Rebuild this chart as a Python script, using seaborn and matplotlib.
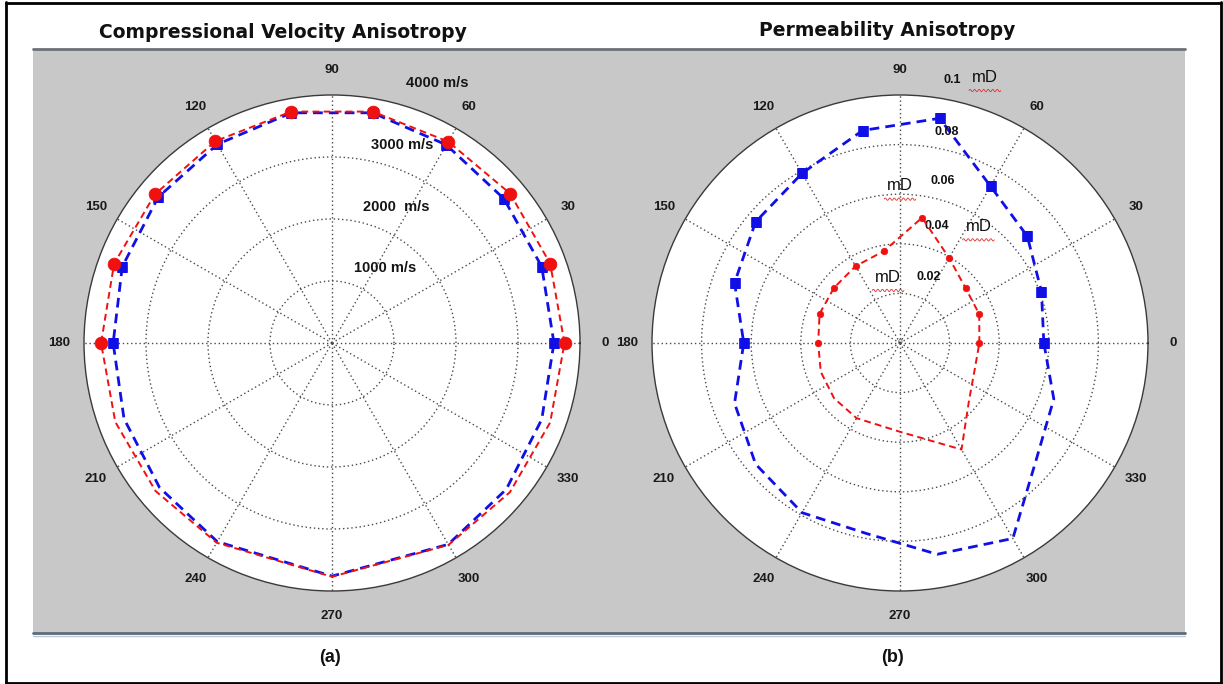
import numpy as np
import pandas as pd
import matplotlib
matplotlib.use("Agg")
import matplotlib.pyplot as plt
import seaborn as sns
from matplotlib.patches import Rectangle
from matplotlib.lines import Line2D

# ---------------- data ----------------
angles_upper = [0, 20, 40, 60, 80, 100, 120, 140, 160, 180]          # measured (marked) directions
# Compressional velocity (m/s)
vel_angles_lower = [200, 220, 240, 270, 300, 320, 340]
vel_red_upper = [3750, 3745, 3750, 3750, 3790, 3790, 3760, 3730, 3740, 3725]
vel_red_lower = [3720, 3715, 3720, 3770, 3760, 3745, 3745]
vel_blue_upper = [3580, 3600, 3620, 3690, 3770, 3770, 3700, 3660, 3600, 3530]
vel_blue_lower = [3570, 3630, 3700, 3760, 3750, 3670, 3600]
vel_rings = [1000, 2000, 3000]
vel_rmax = 4000
vel_ring_labels = ["1000 m/s", "2000  m/s", "3000 m/s", "4000 m/s"]

# Permeability (mD)
perm_blue_angles_lower = [200, 220, 240, 260, 280, 300, 320, 340]
perm_blue_upper = [0.058, 0.0607, 0.067, 0.073, 0.092, 0.087, 0.079, 0.076, 0.071, 0.063]
perm_blue_lower = [0.071, 0.076, 0.079, 0.078, 0.0865, 0.091, 0.072, 0.066]
perm_red_angles_lower = [200, 220, 240, 270, 300, 320, 340]
perm_red_upper = [0.032, 0.034, 0.0345, 0.0396, 0.0513, 0.0376, 0.0358, 0.0347, 0.0345, 0.033]
perm_red_lower = [0.034, 0.0347, 0.035, 0.0358, 0.0496, 0.0363, 0.032]
perm_rings = [0.02, 0.04, 0.06, 0.08]
perm_rmax = 0.1
perm_ring_labels = ["0.02", "0.04", "0.06", "0.08", "0.1"]

theta_tick_labels = [str(a) for a in range(0, 360, 30)]

# ---------------- style ----------------
sns.set_theme(style="white")
plt.rcParams['font.family'] = ['Liberation Sans', 'DejaVu Sans']

W, H = 1223, 684
fig = plt.figure(figsize=(W / 100, H / 100), dpi=100)
fig.patch.set_facecolor("white")


def fx(px):
    return px / W


def fy(py):
    return 1 - py / H


# gray panel band and its rules
fig.patches.append(Rectangle((fx(33), fy(633)), fx(1185) - fx(33), fy(49) - fy(633),
                             transform=fig.transFigure, facecolor="#c8c8c8",
                             edgecolor="none", zorder=-5))
fig.lines.append(Line2D([fx(33), fx(1185)], [fy(49), fy(49)], transform=fig.transFigure,
                        color="#6c7176", lw=2.0))
fig.lines.append(Line2D([fx(33), fx(1185)], [fy(633), fy(633)], transform=fig.transFigure,
                        color="#5d6a78", lw=2.0))
fig.lines.append(Line2D([fx(33), fx(1185)], [fy(635.5), fy(635.5)], transform=fig.transFigure,
                        color="#b9c9d9", lw=1.0))
# outer frame
for xs, ys in [([6, 6], [2, 684]), ([1220.5, 1220.5], [2, 684]), ([6, 1220.5], [2.5, 2.5]),
               ([6, 1220.5], [683, 683])]:
    fig.lines.append(Line2D([fx(v) for v in xs], [fy(v) for v in ys], transform=fig.transFigure,
                            color="black", lw=2.0))

R = 248


def make_polar(cx, cy):
    ax = fig.add_axes([fx(cx - R), fy(cy + R), 2 * R / W, 2 * R / H], projection="polar")
    ax.set_zorder(2)
    ax.set_facecolor("white")
    ax.set_theta_zero_location("E")
    ax.set_theta_direction(1)
    return ax


def finish_polar(ax, rmax, rings):
    ax.set_xlabel("")
    ax.set_ylabel("")
    ax.set_ylim(0, rmax)
    ax.set_xticks(np.deg2rad(np.arange(0, 360, 30)))
    ax.set_xticklabels([])
    ax.set_yticks(rings)
    ax.set_yticklabels([])
    ax.tick_params(length=0)
    ax.grid(True, color="#4a4a4a", linestyle=(0, (1, 2.0)), linewidth=1.0)
    ax.spines["polar"].set_color("#3a3a3a")
    ax.spines["polar"].set_linewidth(1.0)
    for a, lab in zip(range(0, 360, 30), theta_tick_labels):
        ax.text(np.deg2rad(a), 1.1 * rmax, lab, ha="center", va="center", fontsize=9.5,
                fontweight="bold", color="#1a1a1a", clip_on=False)


def draw_series(ax, ang_up, val_up, ang_low, val_low, color, lw, dash, marker, msize, z):
    ang = list(ang_up) + list(ang_low) + [360]
    val = list(val_up) + list(val_low) + [val_up[0]]
    df = pd.DataFrame({"theta": np.deg2rad(ang), "r": val})
    sns.lineplot(data=df, x="theta", y="r", ax=ax, sort=False, estimator=None,
                 color=color, linewidth=lw, linestyle=dash, zorder=z)
    dm = pd.DataFrame({"theta": np.deg2rad(ang_up), "r": val_up})
    sns.scatterplot(data=dm, x="theta", y="r", ax=ax, marker=marker, s=msize,
                    color=color, edgecolor=color, linewidth=0.5, zorder=z + 1)


RED = "#f01010"
BLUE = "#1010e6"

# ---------- (a) compressional velocity ----------
ax1 = make_polar(332, 343)
draw_series(ax1, angles_upper, vel_blue_upper, vel_angles_lower, vel_blue_lower,
            BLUE, 2.0, (0, (3.5, 2.2)), "s", 55, 3)
draw_series(ax1, angles_upper, vel_red_upper, vel_angles_lower, vel_red_lower,
            RED, 1.4, (0, (3.5, 2.2)), "o", 85, 5)
finish_polar(ax1, vel_rmax, vel_rings)
for lab, (x, y) in zip(vel_ring_labels, [(0.607, 0.651), (0.629, 0.774), (0.641, 0.899),
                                         (0.712, 1.024)]):
    ax1.text(x, y, lab, transform=ax1.transAxes, ha="center", va="center", fontsize=10.5,
             fontweight="bold", color="#151515", clip_on=False)

# ---------- (b) permeability ----------
ax2 = make_polar(900, 343)
draw_series(ax2, angles_upper, perm_blue_upper, perm_blue_angles_lower, perm_blue_lower,
            BLUE, 2.0, (0, (3.5, 2.2)), "s", 45, 3)
draw_series(ax2, angles_upper, perm_red_upper, perm_red_angles_lower, perm_red_lower,
            RED, 1.4, (0, (3.5, 2.2)), "o", 22, 5)
finish_polar(ax2, perm_rmax, perm_rings)
num_pos = [(0.557, 0.634), (0.574, 0.735), (0.587, 0.827), (0.594, 0.926), (0.605, 1.03)]
for lab, (x, y) in zip(perm_ring_labels, num_pos):
    ax2.text(x, y, lab, transform=ax2.transAxes, ha="center", va="center", fontsize=9,
             fontweight="bold", color="#111111", clip_on=False)
mD_pos = [(0.671, 1.036), (0.5, 0.817), (0.658, 0.735), (0.476, 0.633)]
for x, y in mD_pos:
    ax2.text(x, y, "mD", transform=ax2.transAxes, ha="center", va="center", fontsize=12,
             color="#111111", clip_on=False)
    xs = np.linspace(x - 0.032, x + 0.032, 40)
    ys = y - 0.027 + 0.0025 * np.sin(np.linspace(0, 14 * np.pi, 40))
    ax2.plot(xs, ys, transform=ax2.transAxes, color="#e03030", lw=0.6, clip_on=False)
ax2.text(0.5, 0.5, "0", transform=ax2.transAxes, ha="center", va="center", fontsize=6,
         color="#555555")

# titles and captions
fig.text(fx(283), fy(33), "Compressional Velocity Anisotropy", ha="center", va="center",
         fontsize=13.5, fontweight="bold", color="#111111", family="DejaVu Sans")
fig.text(fx(887), fy(30), "Permeability Anisotropy", ha="center", va="center",
         fontsize=13.5, fontweight="bold", color="#111111", family="DejaVu Sans")
fig.text(fx(330), fy(658), "(a)", ha="center", va="center", fontsize=13, fontweight="bold",
         color="#111111")
fig.text(fx(893), fy(658), "(b)", ha="center", va="center", fontsize=13, fontweight="bold",
         color="#111111")

fig.savefig("out.png", dpi=100, facecolor="white")
